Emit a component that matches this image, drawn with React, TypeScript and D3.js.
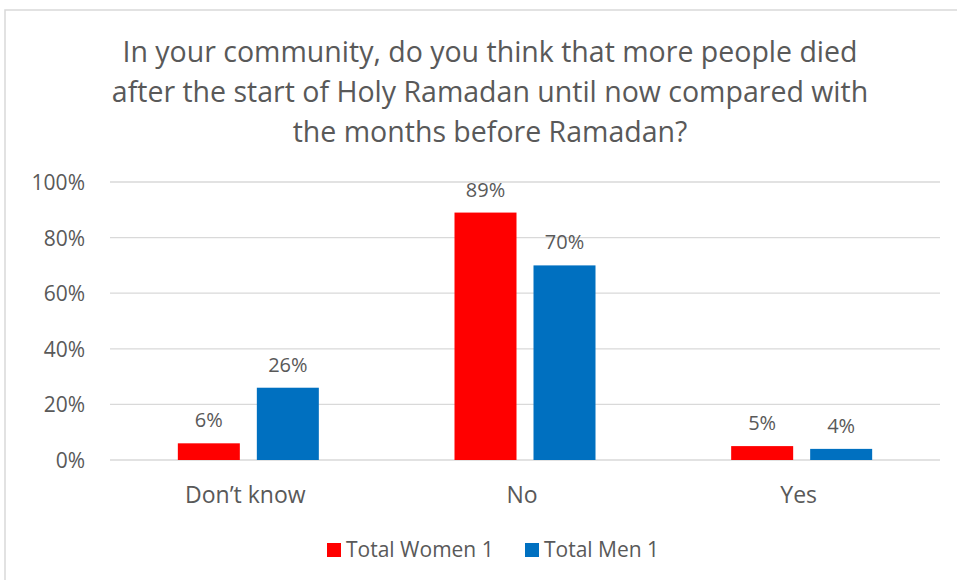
import React from "react";
import * as d3 from "d3";

const categories = ["Don\u2019t know", "No", "Yes"];
const seriesNames = ["Total Women 1", "Total Men 1"];
const women = [0.06, 0.89, 0.05];
const men = [0.26, 0.70, 0.04];
const yTicks = [0, 0.2, 0.4, 0.6, 0.8, 1.0];
const titleLines = [
  "In your community, do you think that more people died",
  "after the start of Holy Ramadan until now compared with",
  "the months before Ramadan?",
];
const colors = ["#FF0000", "#0070C0"];

const W = 957;
const H = 580;
const FONT = "'Open Sans', 'Noto Sans', sans-serif";
const TXT = "#595959";

export default function App() {
  const plot = { left: 110, right: 940, top: 182, bottom: 460 };
  const x = d3.scaleBand().domain(categories).range([plot.left, plot.right]).padding(0);
  const y = d3.scaleLinear().domain([0, 1]).range([plot.bottom, plot.top]);
  const barW = 62;
  const gap = 17;
  const series = [women, men];
  const fmt = d3.format(".0%");

  return (
    <svg width={W} height={H} style={{ position: "absolute", left: 0, top: 0, background: "#fff" }}>
      <rect x={5} y={10} width={W + 10} height={H + 10} fill="#fff" stroke="#d9d9d9" strokeWidth={1.5} />
      {titleLines.map((t, i) => (
        <text key={i} x={490} y={62 + i * 40} textAnchor="middle" fontFamily={FONT} fontSize={28.5} fill={TXT}>
          {t}
        </text>
      ))}
      {yTicks.map((t) => (
        <g key={t}>
          <line x1={plot.left} x2={plot.right} y1={y(t)} y2={y(t)} stroke="#d9d9d9" strokeWidth={1.3} />
          <text x={85} y={y(t) + 8} textAnchor="end" fontFamily={FONT} fontSize={21} fill={TXT}>
            {fmt(t)}
          </text>
        </g>
      ))}
      {categories.map((c, ci) => {
        const cx = (x(c) as number) + x.bandwidth() / 2;
        return (
          <g key={c}>
            {series.map((s, si) => {
              const bx = si === 0 ? cx - gap / 2 - barW : cx + gap / 2;
              return (
                <g key={si}>
                  <rect x={bx} y={y(s[ci])} width={barW} height={y(0) - y(s[ci])} fill={colors[si]} />
                  <text x={bx + barW / 2} y={y(s[ci]) - 16} textAnchor="middle" fontFamily={FONT} fontSize={20} fill={TXT}>
                    {fmt(s[ci])}
                  </text>
                </g>
              );
            })}
            <text x={cx - 3} y={503} textAnchor="middle" fontFamily={FONT} fontSize={23} fill={TXT}>
              {c}
            </text>
          </g>
        );
      })}
      <g>
        <rect x={327} y={543} width={14} height={14} fill={colors[0]} />
        <text x={346} y={557} fontFamily={FONT} fontSize={21} fill={TXT}>{seriesNames[0]}</text>
        <rect x={525} y={543} width={14} height={14} fill={colors[1]} />
        <text x={544} y={557} fontFamily={FONT} fontSize={21} fill={TXT}>{seriesNames[1]}</text>
      </g>
    </svg>
  );
}
